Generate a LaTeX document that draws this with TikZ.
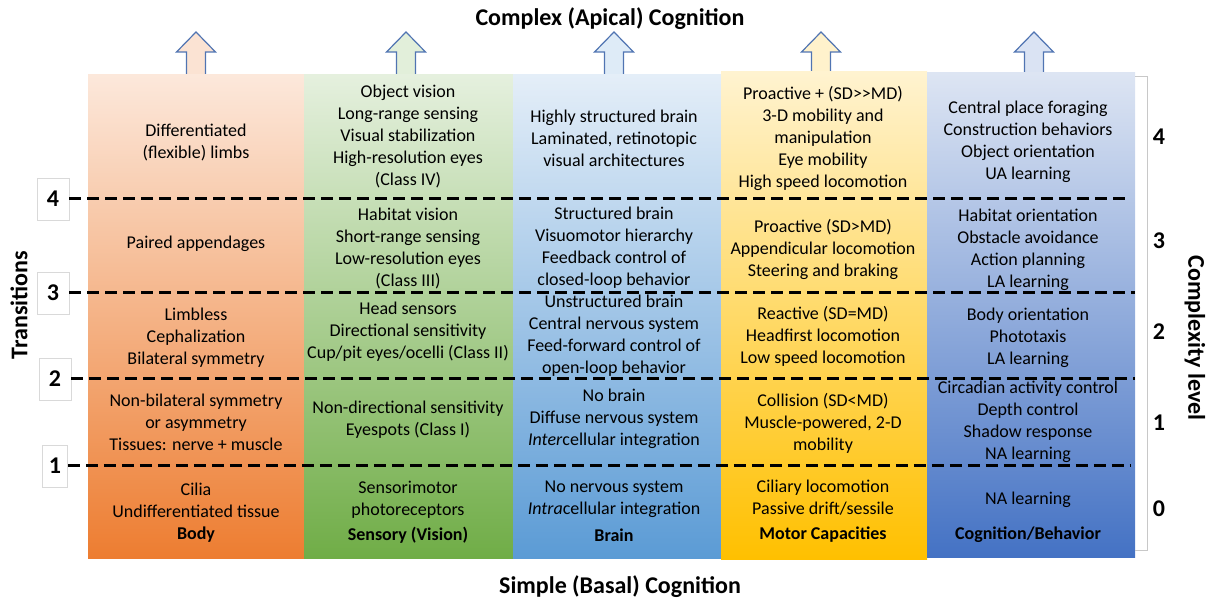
\documentclass[tikz,border=0pt]{standalone}
\usepackage{fontspec}
\setmainfont{Carlito}
\definecolor{bodyT}{HTML}{FCE8DB}\definecolor{bodyB}{HTML}{ED7D31}
\definecolor{sensT}{HTML}{E5F0DE}\definecolor{sensB}{HTML}{70AD47}
\definecolor{brainT}{HTML}{E4EEF8}\definecolor{brainB}{HTML}{5B9BD5}
\definecolor{motT}{HTML}{FFF3D0}\definecolor{motB}{HTML}{FFC000}
\definecolor{cogT}{HTML}{DDE5F3}\definecolor{cogB}{HTML}{4472C4}
\definecolor{arrBody}{HTML}{FBE3D3}\definecolor{arrSens}{HTML}{E2EFDA}
\definecolor{arrBrain}{HTML}{DEEBF7}\definecolor{arrMot}{HTML}{FFF2CC}
\definecolor{arrCog}{HTML}{DAE3F3}
\definecolor{arrEdge}{HTML}{5074B2}
\definecolor{boxgray}{HTML}{D9D9D9}
\definecolor{brgray}{HTML}{C8C8C8}
\newcommand\MyUpArrow[3]{% x, bottom y, fill
  \draw[uparr, fill=#3] (#1-9.5,#2) -- (#1-9.5,52) -- (#1-19.5,52) -- (#1,32)
    -- (#1+19.5,52) -- (#1+9.5,52) -- (#1+9.5,#2) -- cycle;}
\begin{document}
\begin{tikzpicture}[x=1pt,y=-1pt,
  cell/.style={align=center, font=\fontsize{18}{22}\selectfont, inner sep=0pt},
  hdr/.style={font=\bfseries\fontsize{18}{22}\selectfont, inner sep=0pt},
  big/.style={font=\bfseries\fontsize{24}{28}\selectfont, inner sep=0pt},
  levelline/.style={dash pattern=on 12pt off 6pt, line width=3pt},
  uparr/.style={draw=arrEdge, line width=1.2pt},
  numbox/.style={draw=boxgray, fill=white, line width=0.8pt, minimum height=42pt,
     font=\bfseries\fontsize{24}{28}\selectfont, inner sep=0pt}]
\useasboundingbox (0,0) rectangle (1216,601);

% arrows
\MyUpArrow{196}{75}{arrBody}
\MyUpArrow{406}{75}{arrSens}
\MyUpArrow{614}{75}{arrBrain}
\MyUpArrow{821}{72}{arrMot}
\MyUpArrow{1034}{73}{arrCog}

% columns
\shade[top color=bodyT, bottom color=bodyB] (88,75) rectangle (304,558);
\shade[top color=sensT, bottom color=sensB] (304,75) rectangle (513,558);
\shade[top color=brainT, bottom color=brainB] (513,75) rectangle (721,558);
\shade[top color=motT, bottom color=motB] (721,72) rectangle (927,559);
\shade[top color=cogT, bottom color=cogB] (927,73) rectangle (1135,557);

% right bracket
\draw[brgray, line width=0.8pt] (1135,76) -- (1147,76) -- (1147,550) -- (1135,550);

% titles
\node[big] (top) at (610,19) {Complex (Apical) Cognition};
\node[big] (bottom) at (620,587) {Simple (Basal) Cognition};
\node[big, rotate=90] (trans) at (19,305) {Transitions};
\node[big, rotate=-90] (cplx) at (1195,338) {Complexity level};

% transition boxes and level lines
\node[numbox, minimum width=32pt] (t4) at (53,199) {4};
\node[numbox, minimum width=32pt] (t3) at (53,293) {3};
\node[numbox, minimum width=32pt] (t2) at (55,379) {2};
\node[numbox, minimum width=25pt] (t1) at (55,466) {1};
\coordinate (e4) at (1130,199);
\coordinate (e3) at (1135,293);
\coordinate (e2) at (1135,379);
\coordinate (e1) at (1130,466);
\draw[levelline] (t4.east) -- (e4);
\draw[levelline] (t3.east) -- (e3);
\draw[levelline] (t2.east) -- (e2);
\draw[levelline] (t1.east) -- (e1);

% complexity numbers
\node[big] (l4) at (1159,137) {4};
\node[big] (l3) at (1159,241) {3};
\node[big] (l2) at (1159,332) {2};
\node[big] (l1) at (1159,423) {1};
\node[big] (l0) at (1159,509) {0};

% Body
\node[cell] (b4) at (196,143) {Differentiated\\(flexible) limbs};
\node[cell] (b3) at (196,244) {Paired appendages};
\node[cell] (b2) at (196,338) {Limbless\\Cephalization\\Bilateral symmetry};
\node[cell] (b1) at (196,422) {Non-bilateral symmetry\\or asymmetry\\Tissues: nerve + muscle};
\node[cell] (b0) at (196,500) {Cilia\\Undifferentiated tissue};
\node[hdr] (bh) at (196,535) {Body};

% Sensory
\node[cell] (s4) at (408,137) {Object vision\\Long-range sensing\\Visual stabilization\\High-resolution eyes\\(Class IV)};
\node[cell] (s3) at (408,249) {Habitat vision\\Short-range sensing\\Low-resolution eyes\\(Class III)};
\node[cell] (s2) at (408,332) {Head sensors\\Directional sensitivity\\Cup/pit eyes/ocelli (Class II)};
\node[cell] (s1) at (408,420) {Non-directional sensitivity\\Eyespots (Class I)};
\node[cell] (s0) at (408,500) {Sensorimotor\\photoreceptors};
\node[hdr] (sh) at (408,535) {Sensory (Vision)};

% Brain
\node[cell] (r4) at (614,138) {Highly structured brain\\Laminated, retinotopic\\visual architectures};
\node[cell] (r3) at (614,248) {Structured brain\\Visuomotor hierarchy\\Feedback control of\\closed-loop behavior};
\node[cell] (r2) at (614,336) {Unstructured brain\\Central nervous system\\Feed-forward control of\\open-loop behavior};
\node[cell] (r1) at (614,419) {No brain\\Diffuse nervous system\\\textit{Inter}cellular integration};
\node[cell] (r0) at (614,499) {No nervous system\\\textit{Intra}cellular integration};
\node[hdr] (rh) at (614,535) {Brain};

% Motor
\node[cell] (m4) at (823,138) {Proactive + (SD>{}>MD)\\3-D mobility and\\manipulation\\Eye mobility\\High speed locomotion};
\node[cell] (m3) at (823,249) {Proactive (SD>MD)\\Appendicular locomotion\\Steering and braking};
\node[cell] (m2) at (823,336) {Reactive (SD=MD)\\Headfirst locomotion\\Low speed locomotion};
\node[cell] (m1) at (823,423) {Collision (SD<MD)\\Muscle-powered, 2-D\\mobility};
\node[cell] (m0) at (823,498) {Ciliary locomotion\\Passive drift/sessile};
\node[hdr] (mh) at (823,535) {Motor Capacities};

% Cognition
\node[cell] (c4) at (1028,142) {Central place foraging\\Construction behaviors\\Object orientation\\UA learning};
\node[cell] (c3) at (1028,250) {Habitat orientation\\Obstacle avoidance\\Action planning\\LA learning};
\node[cell] (c2) at (1028,338) {Body orientation\\Phototaxis\\LA learning};
\node[cell] (c1) at (1028,422) {Circadian activity control\\Depth control\\Shadow response\\NA learning};
\node[cell] (c0) at (1028,500) {NA learning};
\node[hdr] (ch) at (1028,535) {Cognition/Behavior};
\end{tikzpicture}
\end{document}
